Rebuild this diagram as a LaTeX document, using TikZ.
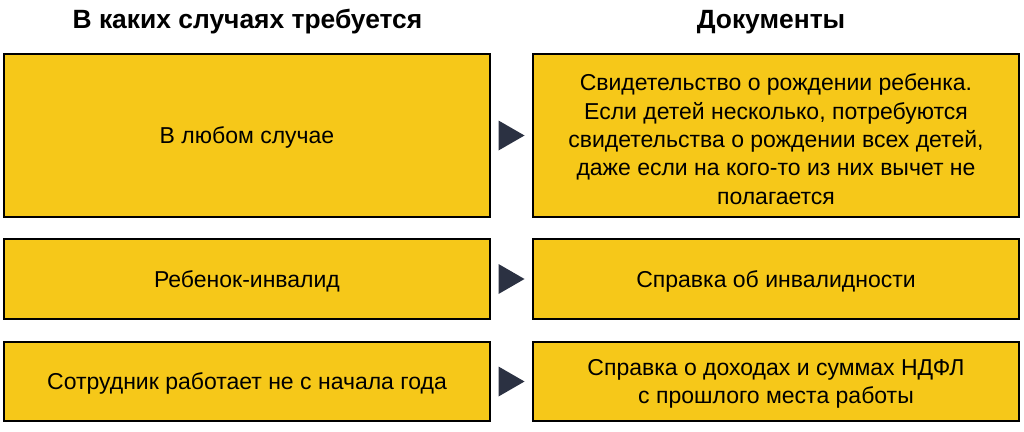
\documentclass[tikz,border=0pt]{standalone}
\usepackage{fontspec}
\setmainfont{Liberation Sans}
\usetikzlibrary{calc}
\definecolor{boxyellow}{HTML}{F6C819}
\definecolor{tipnavy}{HTML}{2B3142}

\begin{document}
\begin{tikzpicture}[
x=1pt, y=-1pt,
    H/.style = {font=\fontsize{26.4}{30}\selectfont\bfseries,
                inner sep=0pt},% column headings
    X/.style = {rectangle, draw=black, line width=2.6pt,
                fill=boxyellow, align=center,
                font=\fontsize{23}{28.3}\selectfont,
                minimum width=486pt, outer sep=0pt,
                inner sep=0pt, text depth=0pt},% yellow boxes
    T/.style = {fill=tipnavy},% small triangles between boxes
                    ]
\useasboundingbox (0,0) rectangle (1024,431);
% headings
\node[H] (hl) at (247.5,22) {В каких случаях требуется};
\node[H] (hr) at (771,22) {Документы};
% left column
\node[X, minimum height=163pt] (l1) at (247,135.5) {В любом случае};
\node[X, minimum height=80pt]  (l2) at (247,279)   {Ребенок-инвалид};
\node[X, minimum height=79pt]  (l3) at (247,381.5) {Сотрудник работает не с начала года};
% right column
\node[X, minimum height=163pt] (r1) at (776,135.5)
    {\rule{0pt}{24pt}Свидетельство о рождении ребенка.\\
     Если детей несколько, потребуются\\
     свидетельства о рождении всех детей,\\
     даже если на кого-то из них вычет не\\
     полагается};
\node[X, minimum height=80pt]  (r2) at (776,279)   {Справка об инвалидности};
\node[X, minimum height=79pt]  (r3) at (776,381.5)
    {Справка о доходах и суммах НДФЛ\\
     с прошлого места работы};
% triangles
\foreach \i in {1,2,3}
    \fill[T] ($(l\i.east)!0.5!(r\i.west)$) ++(-13,-15) -- ++(26,15) -- ++(-26,15) -- cycle;
\end{tikzpicture}
\end{document}
